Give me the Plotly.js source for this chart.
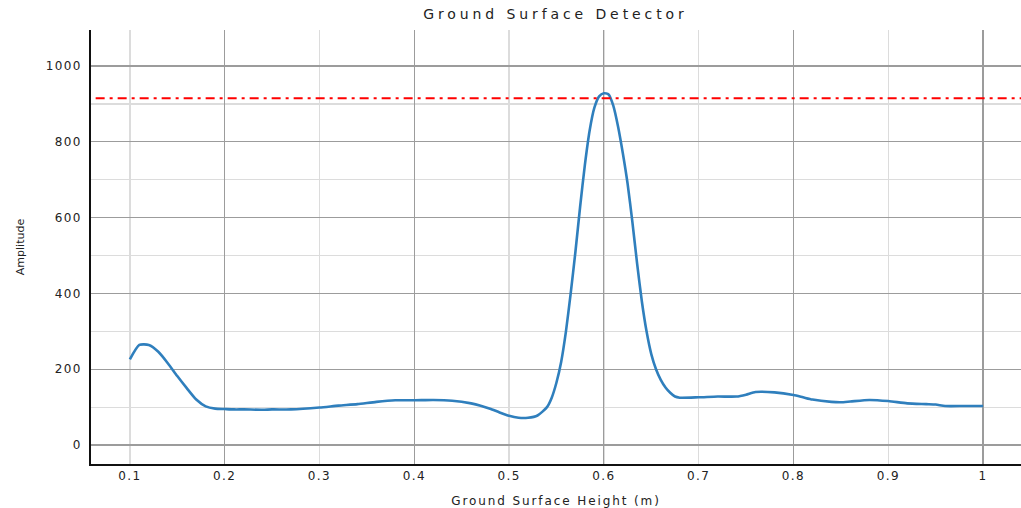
<!DOCTYPE html>
<html>
<head>
<meta charset="utf-8">
<script src="https://cdn.plot.ly/plotly-3.0.1.min.js"></script>
<style>
html,body{margin:0;padding:0;background:#fff;}
#chart{width:1021px;height:508px;}
#chart .gtitle{letter-spacing:3.9px;}
#chart .xtick text,#chart .ytick text{letter-spacing:1.4px;}
#chart .xtitle{letter-spacing:1.9px;}
</style>
</head>
<body>
<div id="chart"></div>
<script>
// Ground surface height (m)
const heights = [0.1, 0.11, 0.12, 0.13, 0.14, 0.15, 0.16, 0.17, 0.18, 0.19, 0.2, 0.21, 0.22, 0.24, 0.25, 0.27, 0.3, 0.32, 0.34, 0.36, 0.38, 0.4, 0.42, 0.44, 0.46, 0.47, 0.48, 0.49, 0.5, 0.51, 0.52, 0.53, 0.54, 0.545, 0.55, 0.555, 0.56, 0.565, 0.57, 0.575, 0.58, 0.585, 0.59, 0.595, 0.6, 0.605, 0.61, 0.615, 0.62, 0.625, 0.63, 0.635, 0.64, 0.645, 0.65, 0.655, 0.66, 0.665, 0.67, 0.675, 0.68, 0.7, 0.72, 0.74, 0.75, 0.76, 0.78, 0.8, 0.81, 0.82, 0.84, 0.85, 0.86, 0.88, 0.9, 0.92, 0.94, 0.95, 0.96, 0.98, 1.0];
// Amplitude
const amplitudes = [226, 264, 264, 246, 216, 182, 150, 120, 102, 96, 95, 94, 94, 93, 94, 94, 99, 104, 108, 114, 118, 118, 119, 117, 110, 104, 96, 86, 77, 72, 72, 78, 100, 125, 165, 220, 300, 400, 510, 630, 740, 830, 890, 920, 928, 925, 895, 840, 770, 690, 590, 480, 380, 300, 240, 200, 172, 152, 138, 128, 125, 126, 128, 128, 133, 140, 139, 132, 126, 120, 114, 113, 115, 119, 116, 110, 108, 107, 103, 103, 103];
const threshold = 915;

const traces = [
  {x: heights, y: amplitudes, type: 'scatter', mode: 'lines', line: {color: '#2f7fbd', width: 2.6, shape: 'spline', smoothing: 0.6}, hoverinfo: 'x+y', showlegend: false},
  {x: [0.5], y: [null], xaxis: 'x2', type: 'scatter', mode: 'lines', showlegend: false, hoverinfo: 'skip'}
];

const layout = {
  width: 1021, height: 508,
  margin: {l: 91, r: 0, t: 30, b: 44},
  paper_bgcolor: '#fff', plot_bgcolor: '#fff',
  font: {family: 'DejaVu Sans, Verdana, sans-serif', color: '#222', size: 12},
  title: {text: 'Ground Surface Detector', x: 0.544, xanchor: 'center', y: 0.972, yanchor: 'middle', font: {size: 14, color: '#222'}},
  xaxis: {
    range: [0.059, 1.04], dtick: 0.1, tick0: 0, ticks: '', showgrid: true, gridcolor: '#dcdcdc', gridwidth: 1.5,
    zeroline: false, showline: true, linecolor: '#111', linewidth: 1.6,
    tickfont: {size: 12}, ticklen: 0,
    title: {text: 'Ground Surface Height (m)', font: {size: 12}, standoff: 14}
  },
  xaxis2: {
    overlaying: 'x', matches: 'x', dtick: 0.2, tick0: 0, showticklabels: false, ticks: '',
    showgrid: true, gridcolor: '#9c9c9c', gridwidth: 1.2, zeroline: false, showline: false
  },
  yaxis: {
    range: [-50, 1095], dtick: 200, tick0: 0, ticks: '', showgrid: true, gridcolor: '#9c9c9c', gridwidth: 1.2,
    minor: {dtick: 100, showgrid: true, gridcolor: '#dcdcdc', gridwidth: 1.2, ticks: ''},
    zeroline: false, showline: true, linecolor: '#111', linewidth: 1.6,
    tickfont: {size: 12}, ticksuffix: ' ',
    title: {text: 'Amplitude', font: {size: 11}, standoff: 26}
  },
  shapes: [{
    type: 'line', xref: 'paper', x0: 0.005, x1: 1, yref: 'y', y0: threshold, y1: threshold,
    line: {color: '#ff0000', width: 2, dash: '9px,5px,3px,5px'}, layer: 'above'
  }]
};

Plotly.newPlot('chart', traces, layout, {displayModeBar: false, staticPlot: true});
</script>
</body>
</html>
